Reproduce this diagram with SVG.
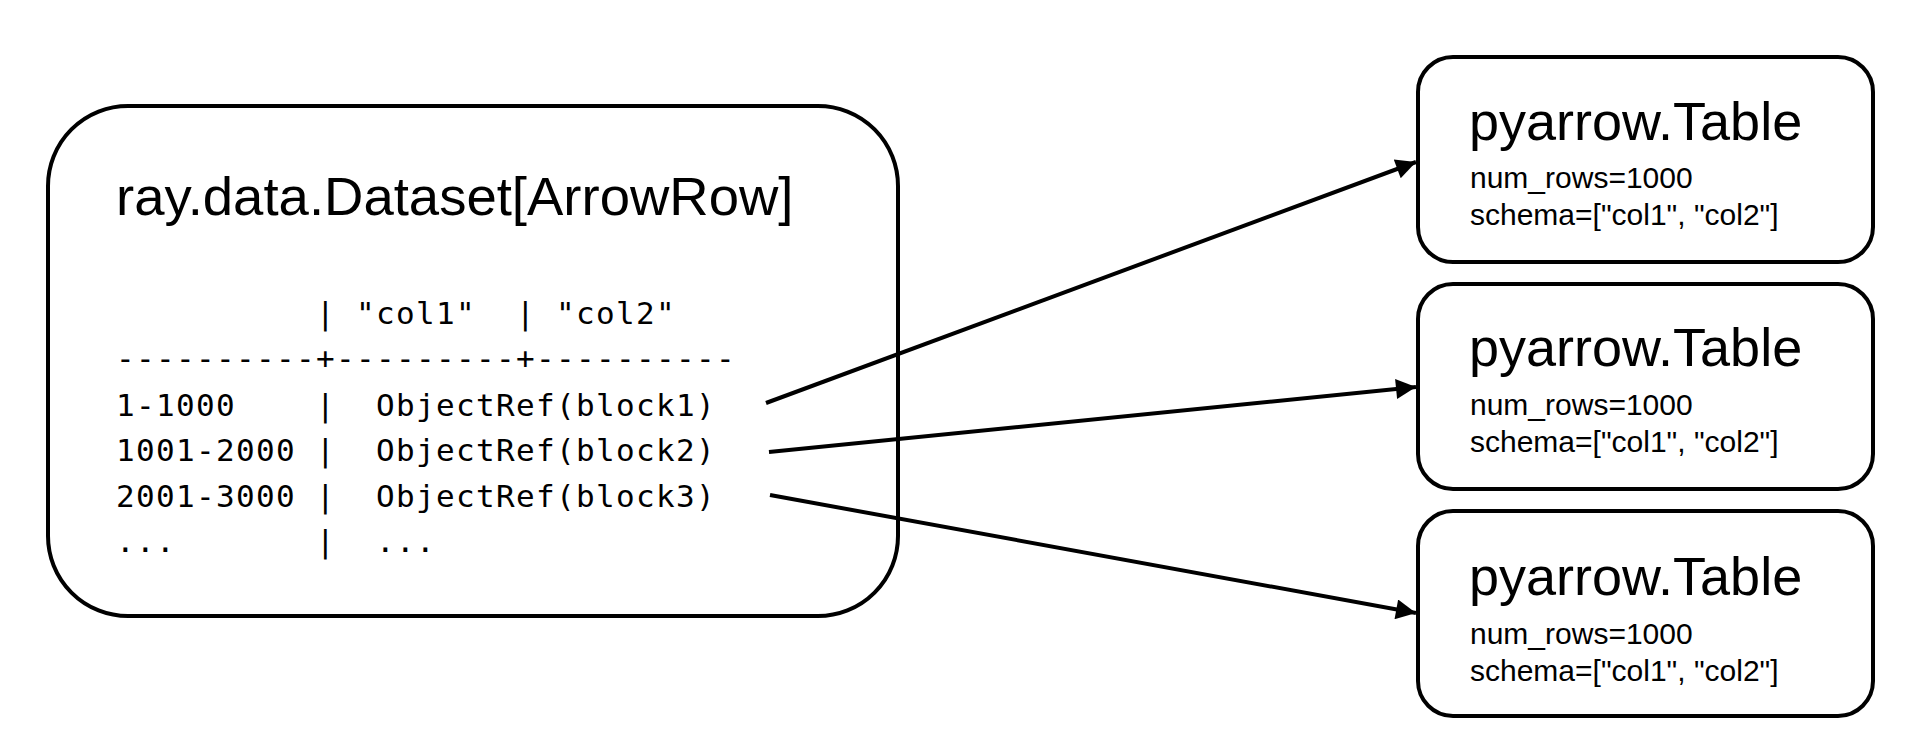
<svg xmlns="http://www.w3.org/2000/svg" width="1918" height="754" viewBox="0 0 1918 754">
<style>
.box{fill:#fff;stroke:#000;stroke-width:4}
.title{font-family:"Liberation Sans",Arial,sans-serif;font-size:54.5px;fill:#000}
.ttl{font-family:"Liberation Sans",Arial,sans-serif;font-size:54px;fill:#000}
.sub{font-family:"Liberation Sans",Arial,sans-serif;font-size:30px;fill:#000}
.mono{font-family:"DejaVu Sans Mono",monospace;font-size:31px;letter-spacing:1.34px;fill:#000;white-space:pre}
.conn{stroke:#000;stroke-width:4;fill:none}
</style>
<defs>
<marker id="ah" viewBox="0 0 10 10" refX="10" refY="5" markerWidth="6.5" markerHeight="5" markerUnits="strokeWidth" orient="auto">
<path d="M0,0 L10,5 L0,10 z" fill="#000"/>
</marker>
</defs>
<rect width="1918" height="754" fill="#fff"/>
<g id="dataset">
<rect class="box" x="48" y="106" width="850" height="510" rx="80" ry="80"/>
<text class="title" x="116" y="215">ray.data.Dataset[ArrowRow]</text>
<text class="mono" x="116" y="324" xml:space="preserve">          | "col1"  | "col2"</text>
<text class="mono" x="116" y="369" xml:space="preserve">----------+---------+----------</text>
<text class="mono" x="116" y="416" xml:space="preserve">1-1000    |  ObjectRef(block1)</text>
<text class="mono" x="116" y="461" xml:space="preserve">1001-2000 |  ObjectRef(block2)</text>
<text class="mono" x="116" y="507" xml:space="preserve">2001-3000 |  ObjectRef(block3)</text>
<text class="mono" x="116" y="552" xml:space="preserve">...       |  ...</text>
</g>
<g id="table1">
<rect class="box" x="1418" y="57" width="455" height="205" rx="35" ry="35"/>
<text class="ttl" x="1469" y="140">pyarrow.Table</text>
<text class="sub" x="1470" y="188">num_rows=1000</text>
<text class="sub" x="1470" y="225">schema=["col1", "col2"]</text>
</g>
<g id="table2">
<rect class="box" x="1418" y="284" width="455" height="205" rx="35" ry="35"/>
<text class="ttl" x="1469" y="366">pyarrow.Table</text>
<text class="sub" x="1470" y="415">num_rows=1000</text>
<text class="sub" x="1470" y="452">schema=["col1", "col2"]</text>
</g>
<g id="table3">
<rect class="box" x="1418" y="511" width="455" height="205" rx="35" ry="35"/>
<text class="ttl" x="1469" y="595">pyarrow.Table</text>
<text class="sub" x="1470" y="644">num_rows=1000</text>
<text class="sub" x="1470" y="681">schema=["col1", "col2"]</text>
</g>
<g id="connectors">
<line class="conn" x1="766" y1="403" x2="1416" y2="162" marker-end="url(#ah)"/>
<line class="conn" x1="769" y1="452" x2="1416" y2="387" marker-end="url(#ah)"/>
<line class="conn" x1="770" y1="495" x2="1416" y2="613" marker-end="url(#ah)"/>
</g>
</svg>
